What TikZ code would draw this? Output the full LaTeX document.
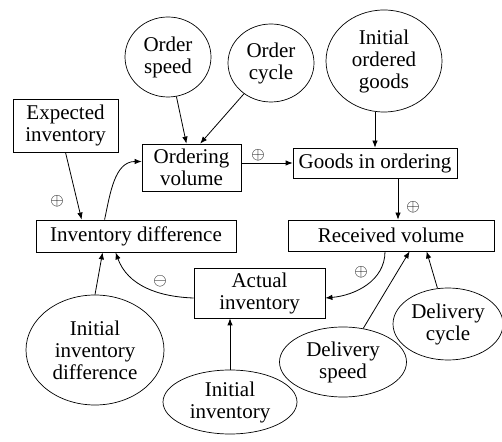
\documentclass[tikz,border=0pt]{standalone}
\usepackage{fontspec}
\setmainfont{Liberation Serif}
\newfontfamily\diagfont{Liberation Serif}
\usetikzlibrary{shapes.geometric,arrows.meta,calc}
\begin{document}
\begin{tikzpicture}[x=1pt,y=1pt,
  every node/.style={font=\diagfont\fontsize{21}{22}\selectfont, align=center, inner sep=0pt},
  boxnode/.style={draw, line width=0.8pt, rectangle},
  ellnode/.style={draw, line width=0.7pt, ellipse},
  arr/.style={line width=0.8pt, -{Latex[length=7pt,width=5.5pt]}},
  sign/.style={font=\fontsize{16}{16}\selectfont}]
\useasboundingbox (0,0) rectangle (502,441);
% ellipses
\node[ellnode, minimum width=86, minimum height=80] (os) at (168,384) {Order\\speed};
\node[ellnode, minimum width=86, minimum height=78] (oc) at (271,378) {Order\\cycle};
\node[ellnode, minimum width=116, minimum height=102] (iog) at (384,380) {Initial\\ordered\\goods};
\node[ellnode, minimum width=138, minimum height=110] (iid) at (95,91) {Initial\\inventory\\difference};
\node[ellnode, minimum width=134, minimum height=64] (ii) at (230,39) {Initial\\inventory};
\node[ellnode, minimum width=127, minimum height=70] (ds) at (343,79) {Delivery\\speed};
\node[ellnode, minimum width=110, minimum height=72] (dc) at (448,117) {Delivery\\cycle};
% boxes
\node[boxnode, minimum width=105, minimum height=53] (ei) at (65.5,315.5) {Expected\\inventory};
\node[boxnode, minimum width=99, minimum height=47] (ov) at (191.5,273.5) {Ordering\\volume};
\node[boxnode, minimum width=164, minimum height=30] (gio) at (375,278) {Goods in ordering};
\node[boxnode, minimum width=200, minimum height=32] (id) at (136,205) {Inventory difference};
\node[boxnode, minimum width=206, minimum height=31] (rv) at (391,205.5) {Received volume};
\node[boxnode, minimum width=131, minimum height=50] (ai) at (259.5,148) {Actual\\inventory};
% connector end points
\coordinate (g1) at ($(gio.south)+(23,0)$);
\coordinate (e1) at ($(id.north west)+(46,0)$);
\coordinate (e2) at ($(id.north west)+(69,0)$);
\coordinate (o1) at ($(ov.west)+(0,6)$);
\coordinate (r1) at ($(rv.south)+(-6,0)$);
\coordinate (a1) at ($(ai.east)+(0,-5)$);
\coordinate (a2) at ($(ai.west)+(0,-5)$);
\coordinate (i1) at ($(id.south west)+(80,0)$);
\coordinate (i2) at ($(id.south west)+(67,0)$);
\coordinate (r2) at ($(rv.south west)+(122,0)$);
\coordinate (r3) at ($(rv.south west)+(139,0)$);
% connectors
\draw[arr] (os) -- (ov);
\draw[arr] (oc) -- (ov.70);
\draw[arr] (ei.south) -- (e1);
\draw[arr] (e2) to[out=78,in=180] (o1);
\draw[arr] (ov.east |- gio.west) -- (gio.west);
\draw[arr] (iog.south -| gio.north) -- (gio.north);
\draw[arr] (g1) -- (g1 |- rv.north);
\draw[arr] (r1) to[out=-90,in=5] (a1);
\draw[arr] (a2) to[out=178,in=-70] (i1);
\draw[arr] (iid.north) -- (i2);
\draw[arr] (ii.north) -- (ii.north |- ai.south);
\draw[arr] (ds) -- (r2);
\draw[arr] (dc) -- (r3);
% signs
\node[sign] (s1) at (57,240) {$\oplus$};
\node[sign] (s2) at (258,286) {$\oplus$};
\node[sign] (s3) at (413,234) {$\oplus$};
\node[sign] (s4) at (361,169) {$\oplus$};
\node[sign] (s5) at (160,160) {$\ominus$};
\end{tikzpicture}
\end{document}
